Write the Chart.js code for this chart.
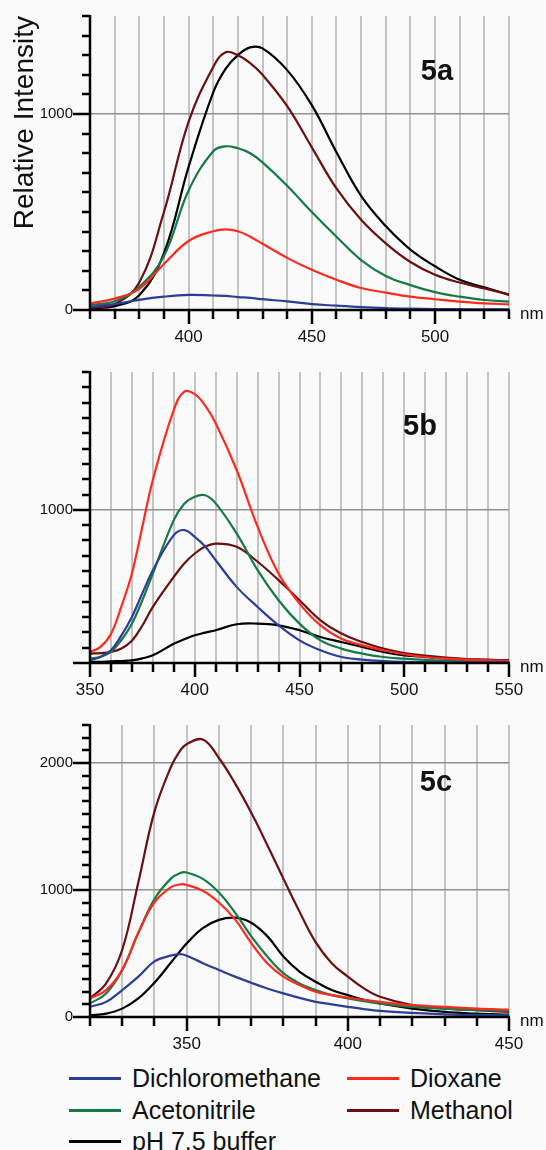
<!DOCTYPE html>
<html>
<head>
<meta charset="utf-8">
<script src="https://cdn.jsdelivr.net/npm/chart.js@4.4.0/dist/chart.umd.min.js"></script>
<style>
  html, body { margin: 0; padding: 0; background: #fafafa; }
  body { width: 546px; height: 1150px; position: relative; overflow: hidden; font-family: "Liberation Sans", Arial, sans-serif; }
  canvas { position: absolute; left: 0; }
  .key { position: absolute; font-size: 25px; line-height: 30px; color: #111; white-space: nowrap; }
  .key i { position: absolute; height: 3px; width: 52px; top: 14px; }
</style>
</head>
<body>
<canvas id="c5a" width="546" height="350" style="top:0"></canvas>
<canvas id="c5b" width="546" height="350" style="top:350px"></canvas>
<canvas id="c5c" width="546" height="360" style="top:700px"></canvas>
<div id="legend"></div>

<script>
// solvents, in legend order
var solvents = ['Dichloromethane', 'Dioxane', 'Acetonitrile', 'Methanol', 'pH 7.5 buffer'];
var solventColors = ['#2c3e96', '#ff2a1f', '#167a45', '#6b1010', '#000000'];

// 5a emission spectra
var nmA   = [360, 370, 380, 390, 400, 410, 415, 420, 425, 430, 440, 450, 460, 470, 480, 490, 500, 510, 520, 530];
var dcmA  = [17, 30, 52, 68, 77, 74, 72, 66, 62, 55, 44, 30, 22, 15, 10, 7, 5, 4, 3, 3];
var dioxA = [34, 58, 108, 235, 352, 402, 411, 402, 374, 338, 266, 205, 154, 112, 89, 68, 55, 43, 34, 29];
var acnA  = [26, 45, 118, 275, 610, 810, 835, 825, 800, 753, 634, 500, 374, 255, 174, 127, 91, 68, 51, 43];
var meohA = [9, 30, 140, 500, 960, 1240, 1315, 1300, 1260, 1200, 1040, 830, 620, 460, 340, 245, 180, 140, 110, 80];
var bufA  = [9, 20, 75, 290, 730, 1110, 1230, 1300, 1340, 1335, 1224, 1045, 805, 582, 428, 308, 223, 154, 116, 77];

// 5b emission spectra
var nmB   = [350, 355, 360, 365, 370, 375, 380, 390, 395, 400, 405, 410, 420, 430, 440, 450, 460, 470, 480, 490, 500, 510, 520, 530, 540, 550];
var dcmB  = [17, 40, 83, 180, 301, 455, 606, 835, 868, 824, 760, 671, 497, 366, 246, 148, 83, 39, 22, 13, 8, 6, 5, 5, 5, 5];
var dioxB = [72, 105, 190, 370, 584, 890, 1195, 1652, 1772, 1755, 1680, 1565, 1260, 890, 584, 388, 246, 159, 115, 83, 57, 39, 28, 22, 17, 13];
var acnB  = [28, 40, 72, 150, 257, 410, 584, 933, 1040, 1086, 1095, 1042, 846, 606, 410, 257, 148, 94, 61, 39, 28, 20, 15, 12, 10, 9];
var meohB = [61, 65, 72, 95, 145, 245, 366, 562, 650, 715, 760, 780, 759, 661, 541, 410, 279, 192, 137, 94, 65, 48, 35, 26, 22, 17];
var bufB  = [7, 8, 11, 13, 17, 30, 50, 126, 155, 181, 198, 214, 253, 257, 246, 214, 170, 137, 105, 72, 50, 39, 28, 22, 17, 17];

// 5c emission spectra
var nmC   = [320, 325, 330, 335, 340, 345, 348, 350, 355, 360, 365, 370, 375, 380, 385, 390, 395, 400, 405, 410, 420, 430, 440, 450];
var dcmC  = [80, 119, 212, 318, 438, 483, 495, 483, 424, 371, 318, 270, 225, 186, 151, 119, 100, 80, 62, 48, 32, 21, 16, 13];
var dioxC = [146, 212, 371, 663, 902, 1021, 1045, 1040, 995, 902, 769, 584, 424, 318, 252, 199, 172, 153, 135, 119, 93, 80, 66, 58];
var acnC  = [106, 186, 371, 663, 928, 1088, 1135, 1138, 1088, 981, 822, 637, 477, 345, 265, 212, 172, 146, 125, 106, 80, 66, 53, 48];
var meohC = [146, 265, 530, 1061, 1618, 1963, 2100, 2149, 2185, 2040, 1840, 1610, 1355, 1090, 830, 590, 424, 318, 225, 159, 93, 66, 53, 40];
var bufC  = [13, 26, 66, 146, 270, 425, 520, 580, 700, 765, 782, 743, 637, 477, 358, 278, 212, 172, 135, 106, 66, 40, 26, 18];

var FONT = '"Liberation Sans", Arial, sans-serif';

// black axes with long ticks every 1000 / 50 nm, short ones in between
var axisFrame = {
  id: 'axisFrame',
  afterDatasetsDraw: function(chart, args, opts) {
    var ctx = chart.ctx, a = chart.chartArea, x = chart.scales.x, y = chart.scales.y;
    ctx.save();
    ctx.strokeStyle = '#000';
    ctx.lineWidth = 2.5;
    ctx.beginPath();
    ctx.moveTo(a.left, a.top - 1);
    ctx.lineTo(a.left, a.bottom);
    y.ticks.forEach(function(t) {
      var py = Math.round(y.getPixelForValue(t.value));
      var len = t.value % 1000 === 0 ? 17 : 8;
      ctx.moveTo(a.left - len, py);
      ctx.lineTo(a.left, py);
    });
    ctx.moveTo(a.left, a.bottom);
    ctx.lineTo(a.right + 1, a.bottom);
    x.ticks.forEach(function(t) {
      var px = Math.round(x.getPixelForValue(t.value));
      var len = t.value % 50 === 0 ? 14 : 9;
      ctx.moveTo(px, a.bottom);
      ctx.lineTo(px, a.bottom + len);
    });
    ctx.stroke();

    ctx.fillStyle = '#111';
    ctx.font = '17px ' + FONT;
    ctx.textAlign = 'left';
    ctx.textBaseline = 'middle';
    ctx.fillText('nm', a.right + 11, a.bottom + 4);

    ctx.font = 'bold 29px ' + FONT;
    ctx.textAlign = 'center';
    ctx.textBaseline = 'alphabetic';
    ctx.fillText(opts.tag, opts.tagX, a.top + opts.tagDy);
    ctx.restore();
  }
};

function makePanel(id, nm, series, cfg) {
  var datasets = series.map(function(vals, i) {
    return {
      label: solvents[i],
      data: nm.map(function(w, j) { return { x: w, y: vals[j] }; }),
      borderColor: solventColors[i],
      borderWidth: 2.2,
      pointRadius: 0,
      tension: 0.4,
      fill: false
    };
  });

  return new Chart(document.getElementById(id), {
    type: 'line',
    data: { datasets: datasets },
    options: {
      responsive: false,
      animation: false,
      devicePixelRatio: 1,
      layout: { padding: { left: 0, right: 37, top: cfg.padTop, bottom: 0 } },
      plugins: {
        legend: { display: false },
        tooltip: { enabled: false },
        axisFrame: { tag: cfg.tag, tagX: cfg.tagX, tagDy: cfg.tagDy }
      },
      scales: {
        x: {
          type: 'linear',
          min: nm[0],
          max: nm[nm.length - 1],
          border: { display: false },
          grid: { color: '#c4c4c4', lineWidth: 2, drawTicks: false },
          ticks: {
            stepSize: 10,
            autoSkip: false,
            maxRotation: 0,
            padding: 17,
            color: '#111',
            font: { family: FONT, size: 17 },
            callback: function(v) { return (v % 50 === 0 && v !== cfg.hideX) ? v : ''; }
          },
          afterFit: function(scale) {
            scale.height = cfg.xHeight;
            scale.paddingLeft = 0;
            scale.paddingRight = 0;
          }
        },
        y: {
          min: 0,
          max: cfg.yMax,
          border: { display: false },
          grid: {
            drawTicks: false,
            lineWidth: 1.5,
            color: function(c) {
              return (c.tick && c.tick.value > 0 && c.tick.value % 1000 === 0) ? '#909090' : 'rgba(0,0,0,0)';
            }
          },
          ticks: {
            stepSize: 100,
            autoSkip: false,
            padding: 17,
            color: '#111',
            font: { family: FONT, size: 15 },
            callback: function(v) {
              if (v % 1000 !== 0) return '';
              if (v === 0 && !cfg.showZero) return '';
              return v;
            }
          },
          title: {
            display: !!cfg.yTitle,
            text: cfg.yTitle || '',
            align: 'end',
            color: '#111',
            font: { family: FONT, size: 28 },
            padding: { top: 8, bottom: 0 }
          },
          afterFit: function(scale) {
            scale.width = 90;
            scale.paddingTop = 0;
            scale.paddingBottom = 0;
          }
        }
      }
    },
    plugins: [axisFrame]
  });
}

makePanel('c5a', nmA, [dcmA, dioxA, acnA, meohA, bufA],
  { yMax: 1500, padTop: 16, xHeight: 40, showZero: true, hideX: 360,
    tag: '5a', tagX: 437, tagDy: 64, yTitle: 'Relative Intensity' });
makePanel('c5b', nmB, [dcmB, dioxB, acnB, meohB, bufB],
  { yMax: 1900, padTop: 22, xHeight: 37, showZero: false, hideX: null,
    tag: '5b', tagX: 420, tagDy: 63 });
makePanel('c5c', nmC, [dcmC, dioxC, acnC, meohC, bufC],
  { yMax: 2300, padTop: 25, xHeight: 43, showZero: true, hideX: 320,
    tag: '5c', tagX: 436, tagDy: 66 });

// legend: two columns, filled top to bottom
var legendSlots = [
  { left: 69, top: 1063 },   // Dichloromethane
  { left: 347, top: 1063 },  // Dioxane
  { left: 69, top: 1095 },   // Acetonitrile
  { left: 347, top: 1095 },  // Methanol
  { left: 69, top: 1126 }    // pH 7.5 buffer
];
var legend = document.getElementById('legend');
solvents.forEach(function(name, i) {
  var d = document.createElement('div');
  d.className = 'key';
  d.style.left = legendSlots[i].left + 'px';
  d.style.top = legendSlots[i].top + 'px';
  d.innerHTML = '<i style="background:' + solventColors[i] + '"></i><span style="margin-left:63px">' + name + '</span>';
  legend.appendChild(d);
});
</script>
</body>
</html>
